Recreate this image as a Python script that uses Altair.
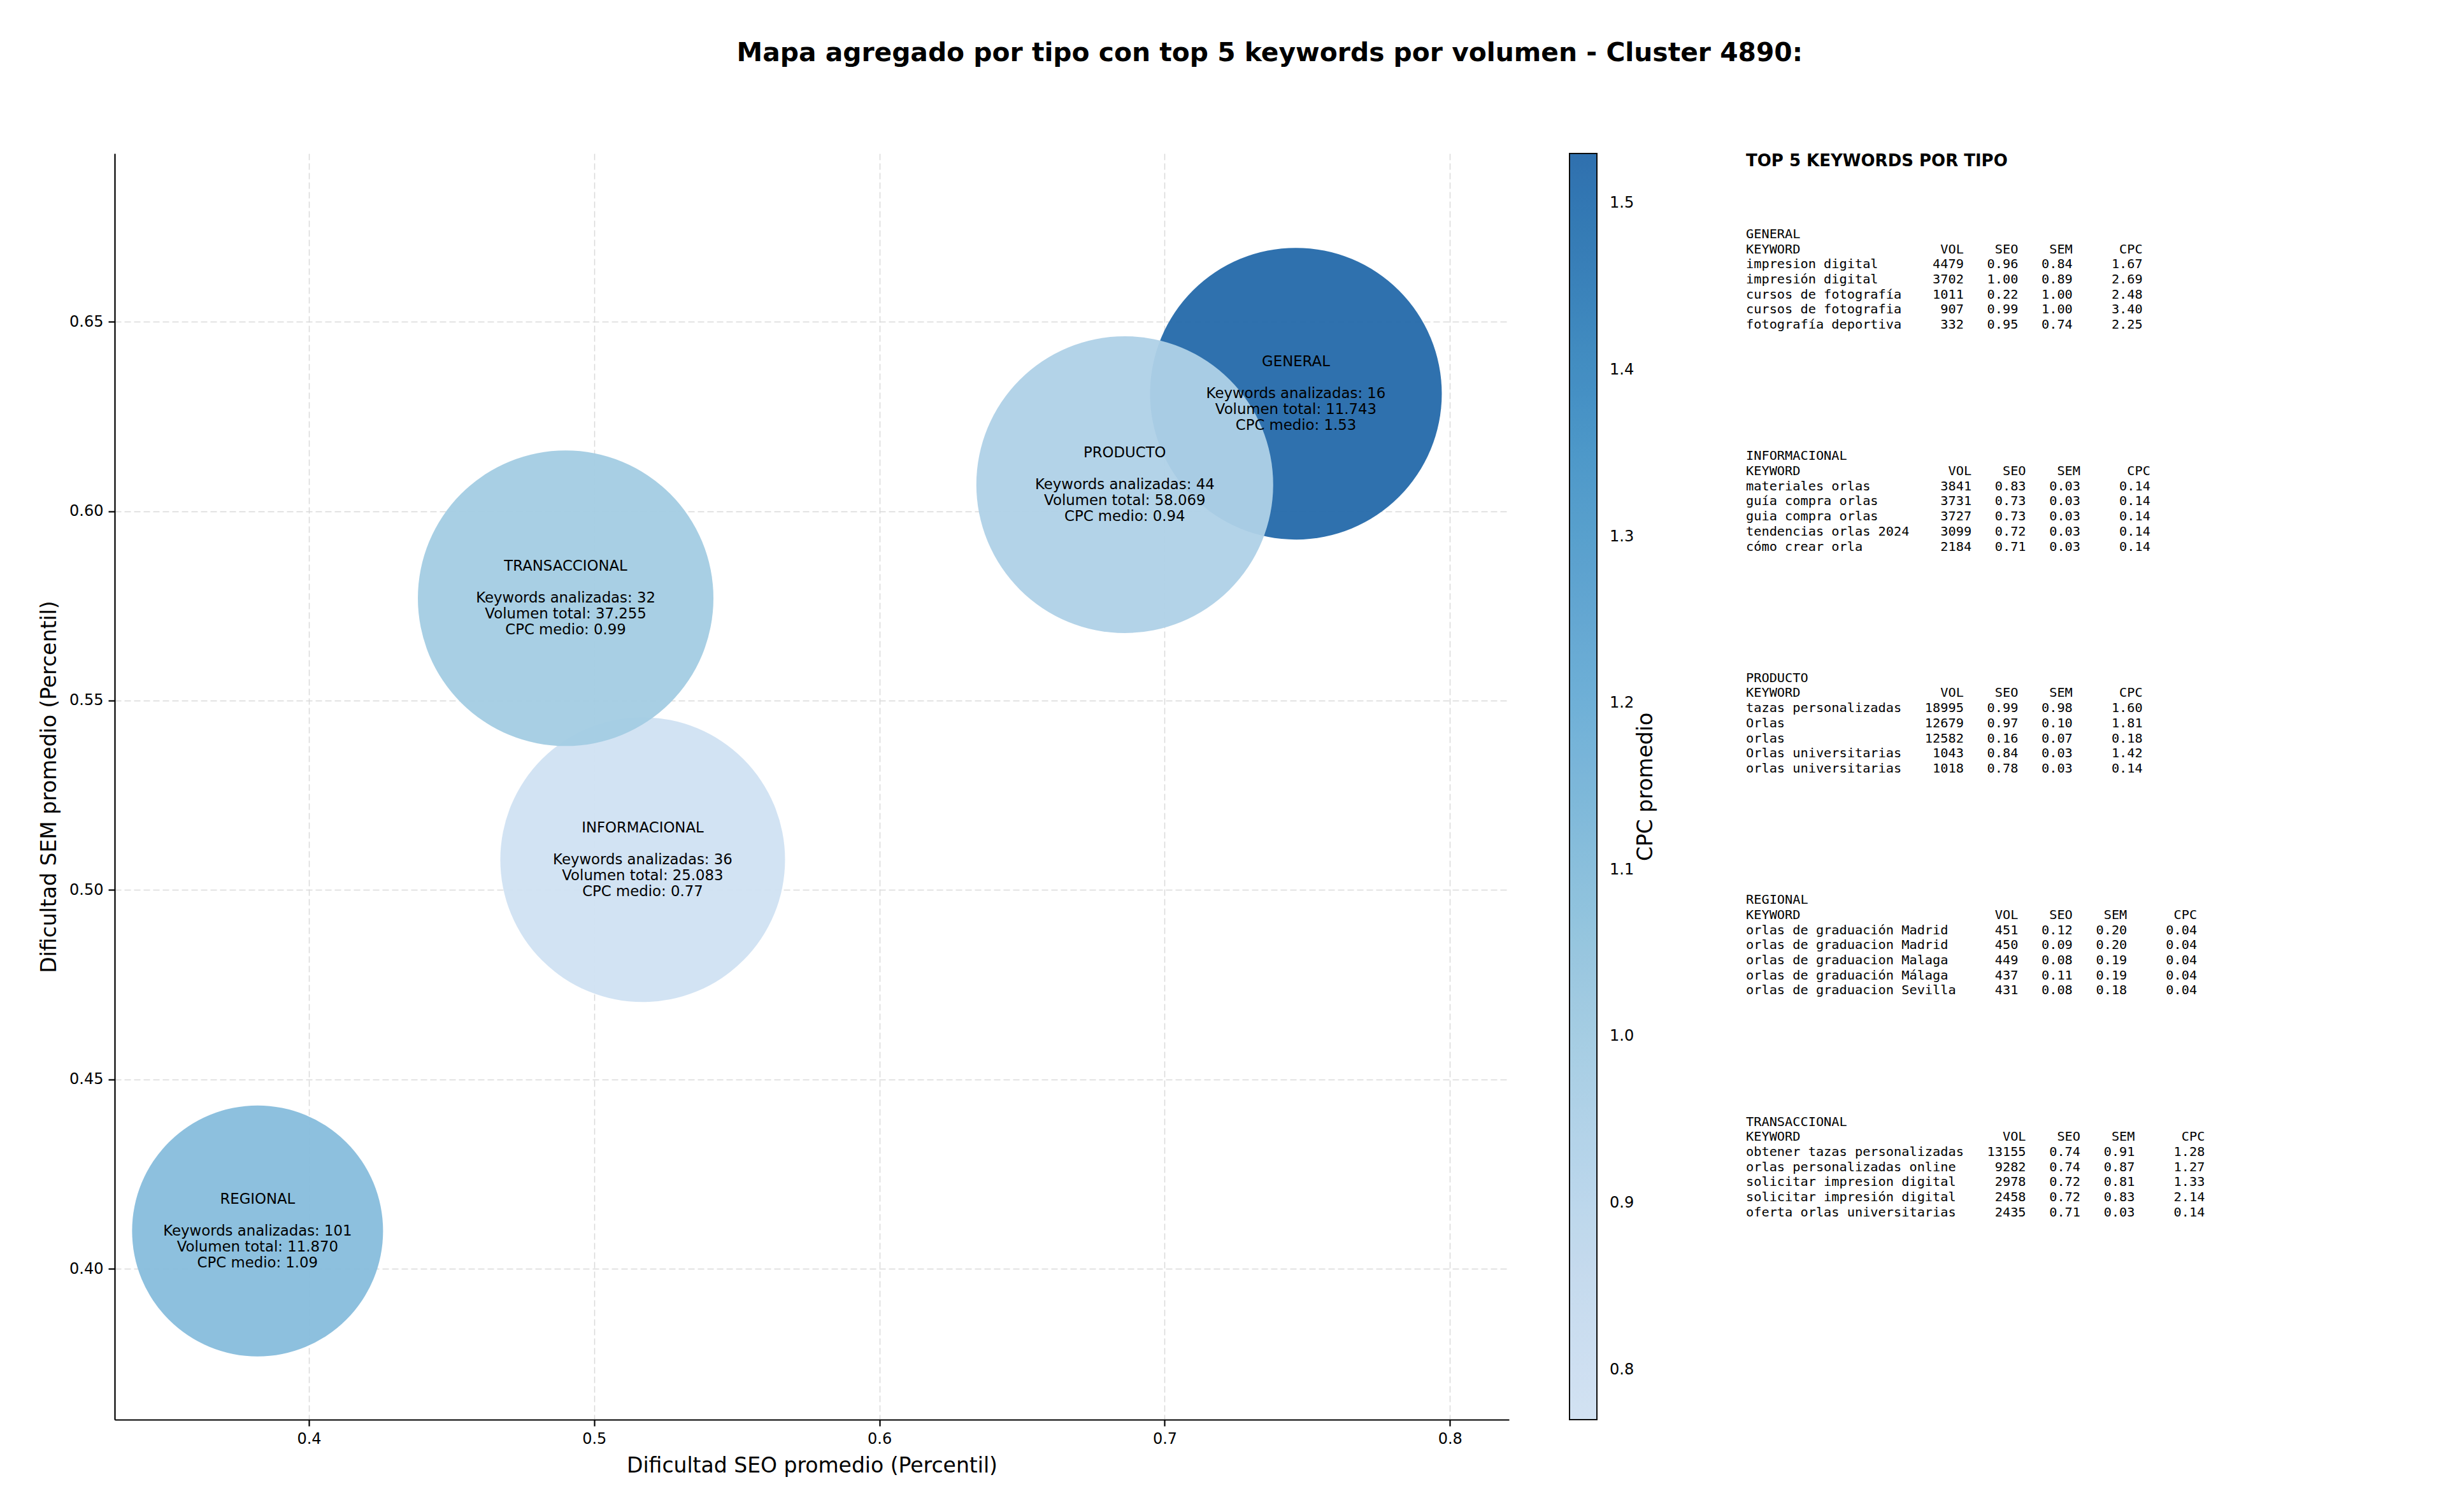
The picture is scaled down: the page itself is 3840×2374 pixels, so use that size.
import altair as alt
import pandas as pd

# ---------------- data ----------------
tipos = ["GENERAL", "INFORMACIONAL", "PRODUCTO", "REGIONAL", "TRANSACCIONAL"]
seo_prom = [0.746, 0.517, 0.686, 0.382, 0.490]
sem_prom = [0.631, 0.508, 0.607, 0.410, 0.577]
n_keywords = [16, 36, 44, 101, 32]
vol_total = [11743, 25083, 58069, 11870, 37255]
cpc_medio = [1.53, 0.77, 0.94, 1.09, 0.99]

top_kw = [
    ["impresion digital", "impresión digital", "cursos de fotografía", "cursos de fotografia", "fotografía deportiva"],
    ["materiales orlas", "guía compra orlas", "guia compra orlas", "tendencias orlas 2024", "cómo crear orla"],
    ["tazas personalizadas", "Orlas", "orlas", "Orlas universitarias", "orlas universitarias"],
    ["orlas de graduación Madrid", "orlas de graduacion Madrid", "orlas de graduacion Malaga",
     "orlas de graduación Málaga", "orlas de graduacion Sevilla"],
    ["obtener tazas personalizadas", "orlas personalizadas online", "solicitar impresion digital",
     "solicitar impresión digital", "oferta orlas universitarias"],
]
top_vol = [
    [4479, 3702, 1011, 907, 332],
    [3841, 3731, 3727, 3099, 2184],
    [18995, 12679, 12582, 1043, 1018],
    [451, 450, 449, 437, 431],
    [13155, 9282, 2978, 2458, 2435],
]
top_seo = [
    [0.96, 1.00, 0.22, 0.99, 0.95],
    [0.83, 0.73, 0.73, 0.72, 0.71],
    [0.99, 0.97, 0.16, 0.84, 0.78],
    [0.12, 0.09, 0.08, 0.11, 0.08],
    [0.74, 0.74, 0.72, 0.72, 0.71],
]
top_sem = [
    [0.84, 0.89, 1.00, 1.00, 0.74],
    [0.03, 0.03, 0.03, 0.03, 0.03],
    [0.98, 0.10, 0.07, 0.03, 0.03],
    [0.20, 0.20, 0.19, 0.19, 0.18],
    [0.91, 0.87, 0.81, 0.83, 0.03],
]
top_cpc = [
    [1.67, 2.69, 2.48, 3.40, 2.25],
    [0.14, 0.14, 0.14, 0.14, 0.14],
    [1.60, 1.81, 0.18, 1.42, 0.14],
    [0.04, 0.04, 0.04, 0.04, 0.04],
    [1.28, 1.27, 1.33, 2.14, 0.14],
]

# ---------------- styles ----------------
FONT = "DejaVu Sans"
MONO = "DejaVu Sans Mono"
PLOT_W, PLOT_H = 2189, 1988
BUBBLE_AREAS = [209764, 199809, 217156, 155236, 215296]   # diameter^2 in px
BLUES_DOMAIN = [0.77, 0.839, 1.012, 1.185, 1.357, 1.53]
BLUES_RANGE = ["#d0e1f2", "#c6dbef", "#9ecae1", "#6baed6", "#4292c6", "#2469aa"]
LABEL_LH = 25
LINE_PX = 23.7
NBSP = "\u00a0"


def fmt_miles(v):
    return f"{v:,}".replace(",", ".")


df = pd.DataFrame({
    "tipo": tipos,
    "seo": seo_prom,
    "sem": sem_prom,
    "cpc": cpc_medio,
    "orden": list(range(len(tipos))),
    "resumen": [
        f"Keywords analizadas: {n}\nVolumen total: {fmt_miles(v)}\nCPC medio: {c:.2f}"
        for n, v, c in zip(n_keywords, vol_total, cpc_medio)
    ],
})

x_enc = alt.X(
    "seo:Q",
    scale=alt.Scale(domain=[0.3319, 0.8207], nice=False, zero=False),
    axis=alt.Axis(values=[0.4, 0.5, 0.6, 0.7, 0.8], format=".1f",
                  title="Dificultad SEO promedio (Percentil)"),
)
y_enc = alt.Y(
    "sem:Q",
    scale=alt.Scale(domain=[0.3602, 0.6944], nice=False, zero=False),
    axis=alt.Axis(values=[0.40, 0.45, 0.50, 0.55, 0.60, 0.65], format=".2f",
                  title="Dificultad SEM promedio (Percentil)"),
)

base = alt.Chart(df)
bubbles = base.mark_circle(opacity=0.95).encode(
    x=x_enc,
    y=y_enc,
    color=alt.Color(
        "cpc:Q",
        scale=alt.Scale(domain=BLUES_DOMAIN, range=BLUES_RANGE),
        legend=alt.Legend(
            title=None,
            orient="right",
            direction="vertical",
            offset=95,
            gradientLength=PLOT_H,
            gradientThickness=43,
            gradientStrokeColor="black",
            gradientStrokeWidth=2,
            values=[0.8, 0.9, 1.0, 1.1, 1.2, 1.3, 1.4, 1.5],
            format=".1f",
            labelFont=FONT,
            labelFontSize=24,
            labelColor="black",
            labelOffset=20,
            labelOverlap=False,
        ),
    ),
    size=alt.Size("orden:Q", scale=alt.Scale(domain=[0, 1, 2, 3, 4], range=BUBBLE_AREAS), legend=None),
    order=alt.Order("orden:Q"),
)
name_labels = base.mark_text(
    font=FONT, fontSize=22.8, align="center", baseline="middle", color="black", dy=-2 * LABEL_LH,
).encode(x=x_enc, y=y_enc, text="tipo:N")
stat_labels = base.mark_text(
    font=FONT, fontSize=22.8, lineHeight=LABEL_LH, lineBreak="\n",
    align="center", baseline="middle", color="black",
).encode(x=x_enc, y=y_enc, text="resumen:N")

main = alt.layer(bubbles, name_labels, stat_labels).properties(width=PLOT_W, height=PLOT_H)

# ---------------- right panel ----------------
rows = [{"texto": "TOP 5 KEYWORDS POR TIPO", "pos": 0.0, "clase": "titulo"}]
for i, t in enumerate(tipos):
    w = max(len(k) for k in top_kw[i]) + 2
    lines = [t, "KEYWORD".ljust(w) + "VOL".rjust(6) + "SEO".rjust(7) + "SEM".rjust(7) + "CPC".rjust(9)]
    for k, v, s, m, c in zip(top_kw[i], top_vol[i], top_seo[i], top_sem[i], top_cpc[i]):
        lines.append(k.ljust(w) + f"{v:>6}{s:>7.2f}{m:>7.2f}{c:>9.2f}")
    for j, ln in enumerate(lines):
        rows.append({"texto": ln.replace(" ", NBSP), "pos": 4.85 + i * 14.7 + j, "clase": "tabla"})
panel_df = pd.DataFrame(rows)

d0 = -12 / LINE_PX
py_scale = alt.Scale(domain=[d0, d0 + PLOT_H / LINE_PX], reverse=True, nice=False, zero=False)
py_title = alt.Y(
    "pos:Q", scale=py_scale,
    axis=alt.Axis(title="CPC promedio", labels=False, ticks=False, domain=False, grid=False,
                  titlePadding=141, titleFontSize=33),
)
py = alt.Y("pos:Q", scale=py_scale)
panel_base = alt.Chart(panel_df)
panel_title = panel_base.transform_filter(alt.datum.clase == "titulo").mark_text(
    font=FONT, fontSize=26, fontWeight="bold", align="left", baseline="middle", color="black"
).encode(x=alt.value(0), y=py_title, text="texto:N")
panel_body = panel_base.transform_filter(alt.datum.clase == "tabla").mark_text(
    font=MONO, fontSize=20.3, align="left", baseline="middle", color="black"
).encode(x=alt.value(0), y=py, text="texto:N")
panel = alt.layer(panel_title, panel_body).properties(width=1000, height=PLOT_H)

chart = alt.hconcat(main, panel, spacing=1).resolve_scale(color="independent").resolve_legend(color="independent").properties(
    title=alt.TitleParams(
        "Mapa agregado por tipo con top 5 keywords por volumen - Cluster 4890:",
        font=FONT, fontSize=40.8, fontWeight="bold", color="black",
        anchor="middle", offset=135, dx=92,
    ),
    padding={"left": 61, "top": 63, "right": 10, "bottom": 10},
    background="white",
).configure_view(stroke=None).configure_axis(
    domainColor="black", domainWidth=2.2, tickColor="black", tickWidth=2.2, tickSize=10,
    labelFont=FONT, labelFontSize=24, labelColor="black", labelPadding=8,
    titleFont=FONT, titleFontSize=33, titleFontWeight="normal", titleColor="black", titlePadding=14,
    grid=True, gridDash=[10, 5], gridColor="#d9d9d9", gridWidth=1.5, zindex=1,
)

chart.save("out.html", embed_options={"renderer": "svg", "actions": False})
